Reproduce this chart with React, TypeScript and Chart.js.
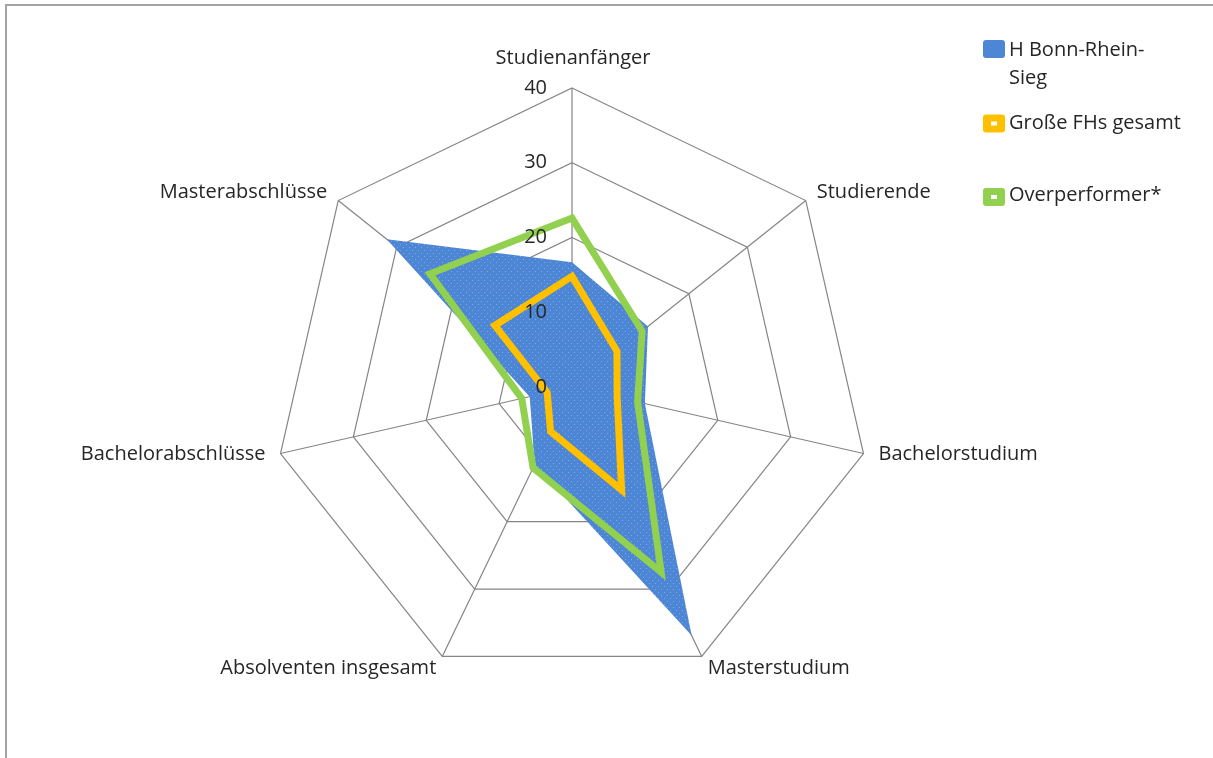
import React, { useEffect, useRef } from 'react';
import { Chart, registerables } from 'chart.js';

Chart.register(...registerables);

const categories = [
  'Studienanfänger',
  'Studierende',
  'Bachelorstudium',
  'Masterstudium',
  'Absolventen insgesamt',
  'Bachelorabschlüsse',
  'Masterabschlüsse',
];
const seriesNames = ['H Bonn-Rhein-Sieg', 'Große FHs gesamt', 'Overperformer*'];
const legendLines = [['H Bonn-Rhein-', 'Sieg'], ['Große FHs gesamt'], ['Overperformer*']];
const bonnValues = [16.7, 13, 10, 36.9, 11.5, 5.8, 31.7];
const grosseValues = [14.8, 7.7, 6.2, 15.3, 6.6, 3.4, 13.2];
const overValues = [22.6, 12, 9, 27.5, 12, 6.9, 24.3];
const tickValues = [0, 10, 20, 30, 40];

const BLUE = 'rgb(76,134,212)';
const YELLOW = '#FFC000';
const GREEN = '#92D050';
const TEXT = '#262626';
const FONT = '20px "Open Sans"';

function makePattern(): CanvasPattern | string {
  const c = document.createElement('canvas');
  c.width = 6;
  c.height = 6;
  const g = c.getContext('2d');
  if (!g) return BLUE;
  g.fillStyle = BLUE;
  g.fillRect(0, 0, 6, 6);
  g.fillStyle = 'rgb(125,168,228)';
  g.fillRect(1, 1, 1, 1);
  g.fillRect(4, 4, 1, 1);
  const p = g.createPattern(c, 'repeat');
  return p || BLUE;
}

const overlayPlugin = {
  id: 'overlay',
  beforeDraw(chart: any) {
    const ctx = chart.ctx as CanvasRenderingContext2D;
    ctx.save();
    ctx.fillStyle = '#ffffff';
    ctx.fillRect(0, 0, chart.width, chart.height);
    ctx.strokeStyle = '#a3a3a3';
    ctx.lineWidth = 2;
    ctx.beginPath();
    ctx.moveTo(6, chart.height);
    ctx.lineTo(6, 5);
    ctx.lineTo(chart.width, 5);
    ctx.stroke();
    ctx.restore();
  },
  afterDraw(chart: any) {
    const ctx = chart.ctx as CanvasRenderingContext2D;
    const s = chart.scales.r as any;
    ctx.save();
    ctx.font = FONT;
    ctx.fillStyle = TEXT;
    // tick labels
    ctx.textAlign = 'right';
    ctx.textBaseline = 'middle';
    tickValues.forEach((v) => {
      const d = s.getDistanceFromCenterForValue(v);
      ctx.fillText(String(v), s.xCenter - 25, s.yCenter - d);
    });
    // point labels
    categories.forEach((c, i) => {
      const p = s.getPointPosition(i, s.drawingArea);
      const dx = p.x - s.xCenter;
      const dy = p.y - s.yCenter;
      if (Math.abs(dx) < 1) {
        ctx.textAlign = 'center';
        ctx.fillText(c, p.x + 1, p.y - 30);
        return;
      }
      const frac = dy / s.drawingArea;
      let off = 11;
      let yo = -8;
      if (frac >= 0 && frac < 0.5) {
        off = 15;
        yo = 1;
      } else if (frac >= 0.5) {
        off = 6;
        yo = 12;
      }
      ctx.textAlign = dx > 0 ? 'left' : 'right';
      ctx.fillText(c, p.x + (dx > 0 ? off : -off), p.y + yo);
    });
    // legend
    const colors = [BLUE, YELLOW, GREEN];
    const markerY = [49, 123.5, 197];
    const textY = [[50, 78], [123], [195]];
    ctx.textAlign = 'left';
    seriesNames.forEach((name, i) => {
      const cy = markerY[i];
      ctx.fillStyle = colors[i];
      ctx.beginPath();
      (ctx as any).roundRect(983, cy - 9, 22, 18, 3);
      ctx.fill();
      if (i > 0) {
        ctx.fillStyle = '#ffffff';
        ctx.fillRect(991, cy - 2, 6, 4);
      }
      ctx.fillStyle = TEXT;
      legendLines[i].forEach((line, j) => {
        ctx.fillText(line, 1009, textY[i][j]);
      });
    });
    ctx.restore();
  },
};

export default function App() {
  const ref = useRef<HTMLCanvasElement | null>(null);
  useEffect(() => {
    if (!ref.current) return;
    const chart = new Chart(ref.current, {
      type: 'radar',
      data: {
        labels: categories,
        datasets: [
          {
            label: seriesNames[0],
            data: bonnValues,
            backgroundColor: makePattern() as any,
            borderColor: 'rgba(0,0,0,0)',
            borderWidth: 0,
            fill: true,
            pointRadius: 0,
            order: 3,
          },
          {
            label: seriesNames[1],
            data: grosseValues,
            borderColor: YELLOW,
            backgroundColor: YELLOW,
            borderWidth: 7,
            borderJoinStyle: 'miter',
            fill: false,
            pointRadius: 0,
            order: 1,
          },
          {
            label: seriesNames[2],
            data: overValues,
            borderColor: GREEN,
            backgroundColor: GREEN,
            borderWidth: 7,
            borderJoinStyle: 'miter',
            fill: false,
            pointRadius: 0,
            order: 2,
          },
        ],
      },
      options: {
        responsive: false,
        animation: false,
        devicePixelRatio: 1,
        layout: { padding: { left: 273, right: 342, top: 88, bottom: 72 } },
        plugins: { legend: { display: false }, tooltip: { enabled: false } },
        elements: { line: { tension: 0 } },
        scales: {
          r: {
            min: 0,
            max: 40,
            ticks: { stepSize: 10, display: false },
            grid: { color: '#858585', lineWidth: 1.2 },
            angleLines: { color: '#858585', lineWidth: 1.2 },
            pointLabels: { display: false },
          },
        },
      } as any,
      plugins: [overlayPlugin],
    });
    return () => chart.destroy();
  }, []);
  return (
    <div style={{ position: 'absolute', left: 0, top: 0, width: 1213, height: 758, overflow: 'hidden', background: '#fff' }}>
      <canvas ref={ref} width={1213} height={758} style={{ display: 'block', width: 1213, height: 758 }} />
    </div>
  );
}
